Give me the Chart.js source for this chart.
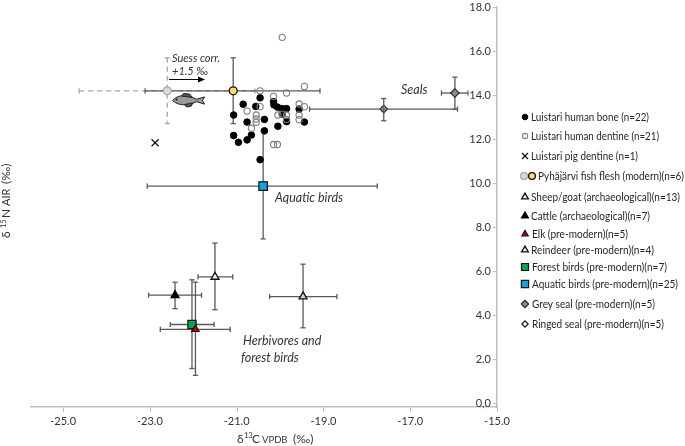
<!DOCTYPE html>
<html><head><meta charset="utf-8">
<style>html,body{margin:0;padding:0;background:#fff}#w{position:relative;width:685px;height:446px}</style>
<script src="https://cdn.jsdelivr.net/npm/chart.js@4"></script>
</head><body><div id="w"><canvas id="c" width="685" height="446"></canvas></div>
<script>
// ---- data ----
const xTicks = [-25, -23, -21, -19, -17, -15];
const yTicks = [0, 2, 4, 6, 8, 10, 12, 14, 16, 18];
const boneX = [-20.85,-20.46,-20.56,-21.07,-20.76,-20.36,-20.36,-20.05,-21.07,-20.96,-20.76,-20.66,-20.46,-20.15,-20.14,-20.06,-19.95,-19.85,-19.56,-19.95,-19.85,-19.44];
const boneY = [13.59,13.88,13.49,13.10,12.78,12.90,12.38,12.59,12.17,11.86,11.97,12.19,11.07,13.71,13.56,13.46,13.39,13.39,13.37,13.13,12.80,12.78];
const dentineX = [-20.46,-19.85,-19.44,-20.15,-19.56,-19.44,-19.56,-19.56,-20.05,-19.85,-19.85,-19.95,-20.55,-20.55,-20.55,-20.76,-20.46,-20.66,-20.15,-20.06,-19.95];
const dentineY = [14.20,14.10,14.40,13.95,13.60,13.48,13.10,12.89,13.10,13.10,12.90,13.14,13.10,12.92,12.77,13.28,13.48,12.50,11.76,11.76,16.63];
const pigX = [-22.88];
const pigY = [11.84];
const groupNames = ['fishUncorrected','fish','sheep','cattle','forest','elk','reindeer','aquatic','grey','ringed'];
const groupX  = [-22.60,-21.08,-21.50,-22.42,-22.03,-21.95,-19.47,-20.39,-15.97,-17.61];
const groupY  = [14.20,14.20,5.74,4.91,3.58,3.36,4.85,9.87,14.10,13.37];
const groupXLo = [-24.63,-23.11,-21.89,-23.03,-22.53,-22.76,-20.24,-23.06,-16.28,-19.32];
const groupXHi = [-20.58,-19.08,-21.09,-21.81,-21.52,-21.15,-18.69,-17.76,-15.67,-15.91];
const groupYLo = [12.71,12.71,4.25,4.30,1.58,1.27,3.43,7.47,13.36,12.84];
const groupYHi = [15.70,15.70,7.28,5.50,5.61,5.50,6.32,12.35,14.82,13.85];
const legendLabels = ['Luistari human bone (n=22)','Luistari human dentine (n=21)','Luistari pig dentine (n=1)','Pyhäjärvi fish flesh (modern)(n=6)','Sheep/goat (archaeological)(n=13)','Cattle (archaeological)(n=7)','Elk (pre-modern)(n=5)','Reindeer (pre-modern)(n=4)','Forest birds (pre-modern)(n=7)','Aquatic birds (pre-modern)(n=25)','Grey seal (pre-modern)(n=5)','Ringed seal (pre-modern)(n=5)'];

// ---- styling ----
const FONT = 'Lato, Carlito, "Open Sans", sans-serif';
const TXT = '#333333', AX = '#bfbfbf', ERR = '#595959', DASH = '#a6a6a6';
const styles = {
  bone:{pointStyle:'circle',radius:3.3,bg:'#000',bd:'#000',bw:1},
  dentine:{pointStyle:'circle',radius:3.1,bg:'rgba(255,255,255,0)',bd:'#7f7f7f',bw:1.1},
  pig:{pointStyle:'crossRot',radius:5,bg:'#000',bd:'#111',bw:1.2},
  fishUncorrected:{pointStyle:'circle',radius:4,bg:'#d9d9d9',bd:'#a6a6a6',bw:1.2},
  fish:{pointStyle:'circle',radius:4,bg:'#ffd966',bd:'#111',bw:1.3},
  sheep:{pointStyle:'triangle',radius:4.6,bg:'#f2f2f2',bd:'#111',bw:1.3},
  cattle:{pointStyle:'triangle',radius:4.8,bg:'#000',bd:'#000',bw:1.1},
  forest:{pointStyle:'rect',radius:5.8,bg:'#00a651',bd:'#111',bw:1.2},
  elk:{pointStyle:'triangle',radius:4.4,bg:'#c00000',bd:'#111',bw:1.1},
  reindeer:{pointStyle:'triangle',radius:4.6,bg:'#d0cece',bd:'#111',bw:1.3},
  aquatic:{pointStyle:'rect',radius:6,bg:'#0ea5e0',bd:'#111',bw:1.2},
  grey:{pointStyle:'rectRot',radius:4.3,bg:'#8c8c8c',bd:'#222',bw:1.1},
  ringed:{pointStyle:'rectRot',radius:3.7,bg:'#f2f2f2',bd:'#222',bw:1.3}
};
function ds(name,xs,ys,order){const s=styles[name];return {label:name,data:xs.map((x,i)=>({x,y:ys[i]})),pointStyle:s.pointStyle,pointRadius:s.radius,pointHoverRadius:s.radius,backgroundColor:s.bg,borderColor:s.bd,borderWidth:s.bw,order};}
const datasets=[ds('bone',boneX,boneY,30),ds('dentine',dentineX,dentineY,20),ds('pig',pigX,pigY,25)];
groupNames.forEach((n,i)=>datasets.push(ds(n,[groupX[i]],[groupY[i]],n==='elk'?1:(n==='forest'?2:10))));

// ---- error bars, drawn through the scales ----
function errLine(c,x0,y0,x1,y1){c.beginPath();c.moveTo(x0,y0);c.lineTo(x1,y1);c.stroke();}
function drawErr(chart,i){
  const X=chart.scales.x,Y=chart.scales.y,c=chart.ctx,n=groupNames[i];
  const px=X.getPixelForValue(groupX[i]),py=Y.getPixelForValue(groupY[i]);
  const l=X.getPixelForValue(groupXLo[i]),r=X.getPixelForValue(groupXHi[i]);
  const b=Y.getPixelForValue(groupYLo[i]),t=Y.getPixelForValue(groupYHi[i]);
  const dashed=n==='fishUncorrected',cap=2.6;
  c.save();c.strokeStyle=dashed?DASH:ERR;c.lineWidth=1.3;if(dashed)c.setLineDash([5,4]);
  errLine(c,l,py,r,py);errLine(c,px,t,px,b);
  c.setLineDash([]);
  errLine(c,l,py-cap,l,py+cap);errLine(c,r,py-cap,r,py+cap);
  errLine(c,px-cap,t,px+cap,t);errLine(c,px-cap,b,px+cap,b);
  c.restore();
}
function drawFish(c,x,y){
  c.save();c.translate(x,y);c.lineWidth=1;c.strokeStyle='#222';c.fillStyle='#9a9a9a';
  c.beginPath();c.moveTo(0,0);c.bezierCurveTo(5,-6,15,-6.5,24,-1.2);c.lineTo(32,-3.6);c.lineTo(30,0);c.lineTo(32,3.6);c.lineTo(24,1.2);c.bezierCurveTo(15,6,5,5,0,0);c.closePath();c.fill();c.stroke();
  c.fillStyle='#555';
  c.beginPath();c.moveTo(9,-4.5);c.lineTo(11,-7);c.lineTo(17,-6.5);c.lineTo(20,-3);c.closePath();c.fill();c.stroke();
  c.beginPath();c.moveTo(12,4);c.lineTo(14,6.5);c.lineTo(19,5.5);c.lineTo(20,2.5);c.closePath();c.fill();c.stroke();
  c.fillStyle='#111';c.beginPath();c.arc(4,-1,0.9,0,7);c.fill();
  c.restore();
}
function text(c,s,x,y,font,color,width){c.save();c.font=font;c.fillStyle=color||TXT;c.textAlign='left';c.textBaseline='middle';const k=width?width/c.measureText(s).width:1;c.translate(x,y);c.scale(k,1);c.fillText(s,0,0);c.restore();}
function marker(c,name,x,y,scale){const s=styles[name];c.save();c.fillStyle=s.bg;c.strokeStyle=s.bd;c.lineWidth=s.bw;Chart.helpers.drawPoint(c,{pointStyle:s.pointStyle,rotation:0,borderWidth:s.bw,radius:s.radius*scale},x,y);c.restore();}

const legendRowY=[117,136,156,176,197,216,234,250,267,284,304,324];
const legendRowWidth=[118,128,107,146,149,119,96,123,135,146,123,132];
const legendMarks=[['bone'],['dentine'],['pig'],['fishUncorrected','fish'],['sheep'],['cattle'],['elk'],['sheep'],['forest'],['aquatic'],['grey'],['ringed']];

const overlay={id:'overlay',
  beforeDatasetsDraw(chart){
    const c=chart.ctx,X=chart.scales.x,Y=chart.scales.y;
    c.save();c.strokeStyle=AX;c.lineWidth=1;
    xTicks.forEach(v=>{const p=Math.round(X.getPixelForValue(v))+.5;errLine(c,p,Y.bottom,p,Y.bottom+5);});
    yTicks.forEach(v=>{const p=Math.round(Y.getPixelForValue(v))+.5;errLine(c,X.right-4,p,X.right,p);});
    c.restore();
    groupNames.forEach((n,i)=>{if(n!=='ringed')drawErr(chart,i);});
  },
  afterDatasetsDraw(chart){
    const c=chart.ctx;
    drawErr(chart,groupNames.indexOf('ringed'));
    const it='italic 12.5px '+FONT, itS='italic 11px '+FONT;
    text(c,'Suess corr.',172,58,itS);
    text(c,'+1.5 ‰',172,71,itS);
    c.save();c.strokeStyle='#000';c.fillStyle='#000';c.lineWidth=1;errLine(c,169,79.5,198,79.5);
    c.beginPath();c.moveTo(205,79.5);c.lineTo(198,76.5);c.lineTo(198,82.5);c.closePath();c.fill();c.restore();
    drawFish(c,172.5,100.5);
    text(c,'Seals',401,90,it);
    text(c,'Aquatic birds',275,198,it);
    text(c,'Herbivores and',243,341,it);
    text(c,'forest birds',241,358,it);
    // axis titles
    const f12='12px '+FONT;
    text(c,'δ',237,439,f12);text(c,'13',244,436,'7.5px '+FONT);text(c,'C',252,439,f12);
    text(c,'VPDB',262,440,'9.5px '+FONT);text(c,'(‰)',293,439,f12);
    c.save();c.translate(6,203);c.rotate(-Math.PI/2);
    text(c,'δ',-35,0,f12);text(c,'15',-25,-2,'7.5px '+FONT);text(c,'N',-15,0,f12);text(c,'AIR',-3,0,'11px '+FONT);text(c,'(‰)',19,0,f12);
    c.restore();
    // legend
    const legFont='12px '+FONT,near=['elk','forest','aquatic','grey','ringed'];
    legendLabels.forEach((s,i)=>{
      const y=legendRowY[i],m=legendMarks[i],leg=0.85,w=legendRowWidth[i];
      if(m.length===2){marker(c,m[0],524,y,leg);marker(c,m[1],532,y,leg);text(c,s,538,y,legFont,'#262626',w);}
      else{marker(c,m[0],525,y,leg);text(c,s,near.includes(m[0])?532:531,y,legFont,'#262626',w);}
    });
  }
};

new Chart(document.getElementById('c'),{type:'scatter',
  data:{datasets},
  plugins:[overlay],
  options:{responsive:false,animation:false,events:[],
    layout:{padding:{left:31,right:188,top:5,bottom:0}},
    plugins:{legend:{display:false},tooltip:{enabled:false}},
    scales:{
      x:{type:'linear',min:-25.74,max:-15,
        afterBuildTicks(s){s.ticks=xTicks.map(value=>({value}));},
        afterFit(s){s.height=39;},
        grid:{display:false,drawTicks:false},border:{color:AX,width:1.5},
        ticks:{autoSkip:false,maxRotation:0,padding:8,color:TXT,font:{family:FONT,size:11},callback:v=>v.toFixed(1)}},
      y:{type:'linear',position:'right',min:-0.17,max:18,
        afterBuildTicks(s){s.ticks=yTicks.map(value=>({value}));},
        afterFit(s){s.width=0;},
        grid:{display:false,drawTicks:false},border:{color:AX,width:1.5},
        ticks:{mirror:true,autoSkip:false,padding:-6,color:TXT,font:{family:FONT,size:11,lineHeight:0.8},callback:v=>v===0?'0,0':v.toFixed(1)}}
    }}});
</script></body></html>
